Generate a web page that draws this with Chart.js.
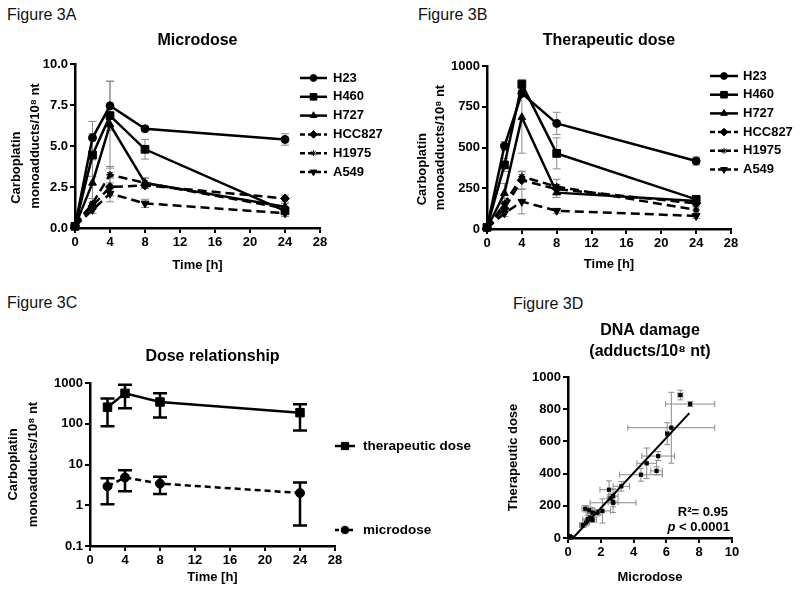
<!DOCTYPE html>
<html>
<head>
<meta charset="utf-8">
<script src="https://cdn.jsdelivr.net/npm/chart.js@4.4.1/dist/chart.umd.min.js"></script>
<style>
    body { margin: 0; background: #fff; }
    #page { position: relative; width: 800px; height: 593px; overflow: hidden; font-family: 'Liberation Sans', Arial, sans-serif; }
    canvas { position: absolute; }
    .fig { position: absolute; font-size: 16px; line-height: 16px; color: #111; }
</style>
</head>
<body>
<div id="page">
    <div class="fig" style="left:7px;top:7px">Figure 3A</div>
    <div class="fig" style="left:418px;top:7px">Figure 3B</div>
    <div class="fig" style="left:7px;top:295px">Figure 3C</div>
    <div class="fig" style="left:513px;top:296px">Figure 3D</div>
    <canvas id="chartA" width="400" height="280" style="left:0;top:0"></canvas>
    <canvas id="chartB" width="400" height="280" style="left:400px;top:0"></canvas>
    <canvas id="chartC" width="540" height="293" style="left:0;top:300px"></canvas>
    <canvas id="chartD" width="320" height="303" style="left:480px;top:290px"></canvas>
</div>
<script>
// time points (h) and cell lines
const timeH = [0, 2, 4, 8, 24];
const cellLines = ['H23', 'H460', 'H727', 'HCC827', 'H1975', 'A549'];

// Figure 3A - microdose, monoadducts / 10^8 nt (mean and SEM)
const microH23 = [0.1, 5.5, 7.45, 6.05, 5.4];
const microH460 = [0.1, 4.45, 6.85, 4.8, 1.05];
const microH727 = [0.1, 2.75, 6.3, 2.75, 1.3];
const microHCC827 = [0.15, 1.35, 2.5, 2.6, 1.8];
const microH1975 = [0.2, 1.5, 3.25, 2.75, 1.2];
const microA549 = [0.1, 1.1, 2.1, 1.5, 0.9];
const microSemH23 = [0, 1.0, 1.5, 0.1, 0.35];
const microSemH460 = [0, 1.3, 0.15, 0.6, 0.2];
const microSemH727 = [0, 1.4, 2.65, 0.3, 0.2];
const microSemHCC827 = [0, 0.2, 0.55, 0.2, 0.2];
const microSemH1975 = [0, 0.3, 0.5, 0.3, 0.3];
const microSemA549 = [0, 0.2, 0.5, 0.25, 0.2];

// Figure 3B - therapeutic dose
const therH23 = [10, 509, 832, 648, 417];
const therH460 = [10, 393, 888, 464, 182];
const therH727 = [5, 219, 685, 223, 172];
const therHCC827 = [5, 127, 300, 245, 157];
const therH1975 = [5, 157, 321, 260, 117];
const therA549 = [5, 96, 168, 112, 80];
const therSemH23 = [0, 28, 15, 68, 25];
const therSemH460 = [0, 40, 30, 95, 20];
const therSemH727 = [0, 60, 220, 30, 20];
const therSemHCC827 = [0, 25, 55, 25, 20];
const therSemH1975 = [0, 30, 30, 45, 25];
const therSemA549 = [0, 20, 75, 15, 15];

// Figure 3C - dose relationship (mean, lower and upper bar)
const doseTime = [2, 4, 8, 24];
const doseTher = [255, 557, 342, 187];
const doseTherLow = [87, 240, 142, 68];
const doseTherHigh = [415, 907, 557, 302];
const doseMicro = [2.9, 4.8, 3.4, 2.0];
const doseMicroLow = [1.06, 2.2, 1.9, 0.32];
const doseMicroHigh = [4.6, 7.2, 5.0, 3.6];
const logTicks = [0.1, 1, 10, 100, 1000];

// Figure 3D - regression line
const fitX = [0.3, 7.4];
const fitY = [0, 776];
const fitText = ['R\u00b2= 0.95', 'p < 0.0001'];

const microValues = [microH23, microH460, microH727, microHCC827, microH1975, microA549];
const microSems = [microSemH23, microSemH460, microSemH727, microSemHCC827, microSemH1975, microSemA549];
const therValues = [therH23, therH460, therH727, therHCC827, therH1975, therA549];
const therSems = [therSemH23, therSemH460, therSemH727, therSemHCC827, therSemH1975, therSemA549];

const FONT = "'Liberation Sans', Arial, Helvetica, sans-serif";
Chart.defaults.font.family = FONT;
Chart.defaults.color = '#000';

// marker / line look per cell line
const lineStyles = [
    { pointStyle: 'circle', radius: 4, rotation: 0, dash: [] },
    { pointStyle: 'rect', radius: 5.5, rotation: 0, dash: [] },
    { pointStyle: 'triangle', radius: 4.5, rotation: 0, dash: [] },
    { pointStyle: 'rectRot', radius: 4.5, rotation: 0, dash: [9, 5] },
    { pointStyle: 'star', radius: 3.5, rotation: 0, dash: [9, 5] },
    { pointStyle: 'triangle', radius: 4.5, rotation: 180, dash: [9, 5] }
];

// error bars drawn with the chart's own scales
const errorBars = {
    id: 'errorBars',
    beforeDatasetsDraw(chart, args, opts) {
        const ctx = chart.ctx;
        const xs = chart.scales.x, ys = chart.scales.y;
        const cap = opts.cap || 4;
        ctx.save();
        ctx.strokeStyle = opts.color || '#888';
        ctx.lineWidth = opts.width || 1;
        chart.data.datasets.forEach(ds => {
            ds.data.forEach((p, j) => {
                const px = xs.getPixelForValue(p.x);
                const py = ys.getPixelForValue(p.y);
                if (ds.yLow) {
                    const y0 = ys.getPixelForValue(ds.yLow[j]);
                    const y1 = ys.getPixelForValue(ds.yHigh[j]);
                    if (Math.abs(y0 - y1) > 1) {
                        ctx.beginPath();
                        ctx.moveTo(px, y0); ctx.lineTo(px, y1);
                        ctx.moveTo(px - cap, y0); ctx.lineTo(px + cap, y0);
                        ctx.moveTo(px - cap, y1); ctx.lineTo(px + cap, y1);
                        ctx.stroke();
                    }
                }
                if (ds.xLow) {
                    const x0 = xs.getPixelForValue(ds.xLow[j]);
                    const x1 = xs.getPixelForValue(ds.xHigh[j]);
                    if (Math.abs(x0 - x1) > 1) {
                        ctx.beginPath();
                        ctx.moveTo(x0, py); ctx.lineTo(x1, py);
                        ctx.moveTo(x0, py - cap); ctx.lineTo(x0, py + cap);
                        ctx.moveTo(x1, py - cap); ctx.lineTo(x1, py + cap);
                        ctx.stroke();
                    }
                }
            });
        });
        ctx.restore();
    }
};

// legend: short line with the marker in the middle, like GraphPad
const lineLegend = {
    id: 'lineLegend',
    afterDraw(chart, args, opts) {
        if (opts.x === undefined) return;
        const ctx = chart.ctx;
        ctx.save();
        chart.data.datasets.forEach((ds, i) => {
            const y = opts.y + i * opts.step;
            ctx.strokeStyle = '#000';
            ctx.fillStyle = '#000';
            ctx.lineWidth = 2.5;
            ctx.setLineDash(ds.borderDash && ds.borderDash.length ? opts.dash : []);
            ctx.beginPath();
            ctx.moveTo(opts.x, y);
            ctx.lineTo(opts.x + opts.len, y);
            ctx.stroke();
            ctx.setLineDash([]);
            ctx.lineWidth = 1;
            Chart.helpers.drawPoint(ctx, {
                pointStyle: ds.pointStyle,
                radius: ds.pointRadius * 0.85,
                rotation: ds.pointRotation || 0,
                borderWidth: ds.pointStyle === 'star' ? 1.5 : 1
            }, opts.x + opts.len / 2, y);
            ctx.font = 'bold ' + (opts.size || 13) + 'px ' + FONT;
            ctx.textBaseline = 'middle';
            ctx.textAlign = 'left';
            ctx.fillText(ds.label, opts.x + opts.len + opts.gap, y);
        });
        ctx.restore();
    }
};

// R2 / p text in the corner of 3D
const fitLabel = {
    id: 'fitLabel',
    afterDraw(chart, args, opts) {
        if (!opts.lines) return;
        const ctx = chart.ctx, area = chart.chartArea;
        ctx.save();
        ctx.fillStyle = '#000';
        ctx.textAlign = 'right';
        ctx.textBaseline = 'middle';
        ctx.font = 'bold 13px ' + FONT;
        ctx.fillText(opts.lines[0], area.right - 4, area.bottom - 26);
        const rest = opts.lines[1].slice(1);
        const w = ctx.measureText(rest).width;
        ctx.fillText(rest, area.right - 2, area.bottom - 11);
        ctx.font = 'italic bold 13px ' + FONT;
        ctx.fillText(opts.lines[1][0], area.right - 2 - w, area.bottom - 11);
        ctx.restore();
    }
};

function tickFont() {
    return { family: FONT, size: 13, weight: 'bold' };
}

function axisGrid() {
    return { drawOnChartArea: false, drawTicks: true, tickLength: 5, color: '#000', lineWidth: 2 };
}

function axisBorder() {
    return { display: true, color: '#000', width: 2.5 };
}

function timeAxis(height, padBottom) {
    return {
        type: 'linear', min: 0, max: 28,
        ticks: { stepSize: 4, font: tickFont(), padding: 2, maxRotation: 0, autoSkip: false },
        grid: axisGrid(), border: axisBorder(),
        title: { display: true, text: 'Time [h]', font: { size: 13, weight: 'bold', lineHeight: 1.2 }, padding: { top: 0, bottom: padBottom } },
        afterFit: s => { s.height = height; }
    };
}

function timeCourse(values, sems) {
    return cellLines.map((name, i) => ({
        label: name,
        data: timeH.map((t, j) => ({ x: t, y: values[i][j] })),
        yLow: values[i].map((v, j) => v - sems[i][j]),
        yHigh: values[i].map((v, j) => v + sems[i][j]),
        borderColor: '#000',
        backgroundColor: '#000',
        borderWidth: 2.5,
        borderDash: lineStyles[i].dash,
        pointStyle: lineStyles[i].pointStyle,
        pointRadius: lineStyles[i].radius,
        pointRotation: lineStyles[i].rotation,
        pointBorderWidth: lineStyles[i].pointStyle === 'star' ? 1.5 : 1,
        pointBorderColor: '#000',
        pointBackgroundColor: '#000',
        tension: 0,
        clip: false
    }));
}

const yTitleLines = ['Carboplatin' + ' '.repeat(12), 'monoadducts/10\u2078 nt'];

// ---- Figure 3A ----
new Chart(document.getElementById('chartA').getContext('2d'), {
    type: 'line',
    data: { datasets: timeCourse(microValues, microSems) },
    options: {
        responsive: false, animation: false,
        layout: { padding: { left: 0, right: 80, top: 0, bottom: 0 } },
        scales: {
            x: timeAxis(52, 7.2),
            y: {
                min: 0, max: 10,
                ticks: { stepSize: 2.5, font: tickFont(), padding: 2, callback: v => v.toFixed(1) },
                grid: axisGrid(), border: axisBorder(),
                title: { display: true, text: yTitleLines, font: { size: 13, weight: 'bold', lineHeight: 19 / 13 }, padding: { top: 6.5, bottom: 0 } },
                afterFit: s => { s.width = 75; }
            }
        },
        plugins: {
            legend: { display: false },
            tooltip: { enabled: false },
            title: { display: true, fullSize: false, text: 'Microdose', font: { size: 16, weight: 'bold', lineHeight: 1.2 }, padding: { top: 31.4, bottom: 13.4 } },
            errorBars: { color: '#8a8a8a', width: 1, cap: 4 },
            lineLegend: { x: 300, y: 78, step: 18.8, len: 27, gap: 6, dash: [5, 3] }
        }
    },
    plugins: [errorBars, lineLegend]
});

// ---- Figure 3B ----
new Chart(document.getElementById('chartB').getContext('2d'), {
    type: 'line',
    data: { datasets: timeCourse(therValues, therSems) },
    options: {
        responsive: false, animation: false,
        layout: { padding: { left: 0, right: 69, top: 0, bottom: 0 } },
        scales: {
            x: timeAxis(51, 8.2),
            y: {
                min: 0, max: 1000,
                ticks: { stepSize: 250, font: tickFont(), padding: 2, callback: v => String(v) },
                grid: axisGrid(), border: axisBorder(),
                title: { display: true, text: yTitleLines, font: { size: 13, weight: 'bold', lineHeight: 18 / 13 }, padding: { top: 13, bottom: 0 } },
                afterFit: s => { s.width = 87; }
            }
        },
        plugins: {
            legend: { display: false },
            tooltip: { enabled: false },
            title: { display: true, fullSize: false, text: 'Therapeutic dose', font: { size: 16, weight: 'bold', lineHeight: 1.2 }, padding: { top: 31.4, bottom: 15.4 } },
            errorBars: { color: '#8a8a8a', width: 1, cap: 4 },
            lineLegend: { x: 310, y: 76, step: 18.7, len: 28, gap: 5, dash: [5, 3] }
        }
    },
    plugins: [errorBars, lineLegend]
});

// ---- Figure 3C ----
new Chart(document.getElementById('chartC').getContext('2d'), {
    type: 'line',
    data: {
        datasets: [{
            label: 'therapeutic dose',
            data: doseTime.map((t, j) => ({ x: t, y: doseTher[j] })),
            yLow: doseTherLow, yHigh: doseTherHigh,
            borderColor: '#000', backgroundColor: '#000', borderWidth: 2.5, borderDash: [],
            pointStyle: 'rect', pointRadius: 6, pointBorderWidth: 1, tension: 0, clip: false
        }, {
            label: 'microdose',
            data: doseTime.map((t, j) => ({ x: t, y: doseMicro[j] })),
            yLow: doseMicroLow, yHigh: doseMicroHigh,
            borderColor: '#000', backgroundColor: '#000', borderWidth: 2.5, borderDash: [6, 4],
            pointStyle: 'circle', pointRadius: 4.5, pointBorderWidth: 1, tension: 0, clip: false
        }]
    },
    options: {
        responsive: false, animation: false,
        layout: { padding: { left: 0, right: 205, top: 0, bottom: 0 } },
        scales: {
            x: timeAxis(47, 8.2),
            y: {
                type: 'logarithmic', min: 0.1, max: 1000,
                afterBuildTicks: s => { s.ticks = logTicks.map(v => ({ value: v })); },
                ticks: { font: tickFont(), padding: 2, callback: v => String(v) },
                grid: axisGrid(), border: axisBorder(),
                title: { display: true, text: ['Carboplatin', 'monoadducts/10\u2078 nt'], font: { size: 13, weight: 'bold', lineHeight: 20 / 13 }, padding: { top: 3, bottom: 0 } },
                afterFit: s => { s.width = 90; }
            }
        },
        plugins: {
            legend: { display: false },
            tooltip: { enabled: false },
            title: { display: true, fullSize: false, text: 'Dose relationship', font: { size: 16, weight: 'bold', lineHeight: 1.2 }, padding: { top: 47.4, bottom: 16.4 } },
            errorBars: { color: '#000', width: 2.5, cap: 7 },
            lineLegend: { x: 335, y: 146, step: 84, len: 20, gap: 8, dash: [4, 3], size: 13.5 }
        }
    },
    plugins: [errorBars, lineLegend]
});

// ---- Figure 3D ----
const scatterPts = [], scatterXLow = [], scatterXHigh = [], scatterYLow = [], scatterYHigh = [];
cellLines.forEach((name, i) => {
    timeH.forEach((t, j) => {
        scatterPts.push({ x: microValues[i][j], y: therValues[i][j] });
        scatterXLow.push(microValues[i][j] - microSems[i][j]);
        scatterXHigh.push(microValues[i][j] + microSems[i][j]);
        scatterYLow.push(therValues[i][j] - therSems[i][j]);
        scatterYHigh.push(therValues[i][j] + therSems[i][j]);
    });
});

new Chart(document.getElementById('chartD').getContext('2d'), {
    type: 'scatter',
    data: {
        datasets: [{
            label: 'fit',
            type: 'line',
            data: fitX.map((x, j) => ({ x: x, y: fitY[j] })),
            borderColor: '#000', borderWidth: 2, pointRadius: 0, clip: false
        }, {
            label: 'cell lines',
            data: scatterPts,
            xLow: scatterXLow, xHigh: scatterXHigh,
            yLow: scatterYLow, yHigh: scatterYHigh,
            pointStyle: 'rect', pointRadius: 3, pointBorderWidth: 0,
            backgroundColor: '#000', borderColor: '#000', clip: false
        }]
    },
    options: {
        responsive: false, animation: false,
        layout: { padding: { left: 0, right: 68, top: 0, bottom: 0 } },
        scales: {
            x: {
                type: 'linear', min: 0, max: 10,
                ticks: { stepSize: 2, font: tickFont(), padding: 2, maxRotation: 0 },
                grid: axisGrid(), border: axisBorder(),
                title: { display: true, text: 'Microdose', font: { size: 13, weight: 'bold', lineHeight: 1.2 }, padding: { top: 0, bottom: 8.2 } },
                afterFit: s => { s.height = 55; }
            },
            y: {
                min: 0, max: 1000,
                ticks: { stepSize: 200, font: tickFont(), padding: 2, callback: v => String(v) },
                grid: axisGrid(), border: axisBorder(),
                title: { display: true, text: 'Therapeutic dose', font: { size: 13, weight: 'bold', lineHeight: 1.2 }, padding: { top: 25.2, bottom: 0 } },
                afterFit: s => { s.width = 88; }
            }
        },
        plugins: {
            legend: { display: false },
            tooltip: { enabled: false },
            title: { display: true, fullSize: false, text: ['DNA damage', '(adducts/10\u2078 nt)'], font: { size: 16, weight: 'bold', lineHeight: 21 / 16 }, padding: { top: 30.5, bottom: 14.5 } },
            errorBars: { color: '#8a8a8a', width: 1, cap: 3 },
            fitLabel: { lines: fitText }
        }
    },
    plugins: [errorBars, fitLabel]
});
</script>
</body>
</html>
